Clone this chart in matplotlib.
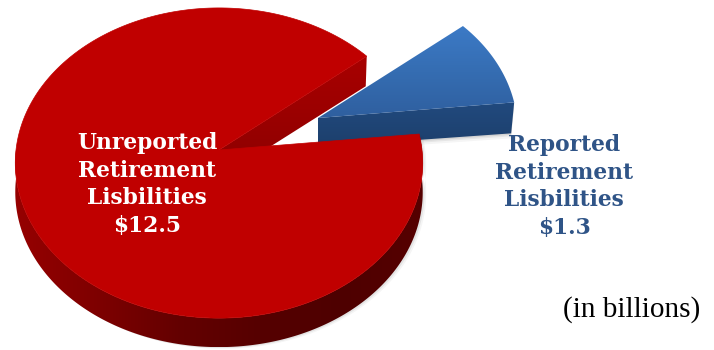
import numpy as np
import matplotlib
matplotlib.use("Agg")
import matplotlib.pyplot as plt
from matplotlib.colors import LinearSegmentedColormap
from matplotlib.patches import Polygon

# Retirement liabilities, in billions of dollars
slice_names = ["Unreported Retirement Lisbilities", "Reported Retirement Lisbilities"]
slice_values = [12.5, 1.3]
slice_labels = ["Unreported\nRetirement\nLisbilities\n$12.5", "Reported\nRetirement\nLisbilities\n$1.3"]
unit_note = "(in billions)"

# Pie geometry on a pixel-sized canvas
W, H = 714, 350
RX, RY = 203, 154          # radii of the tilted disc
TILT = 0.084               # perspective strength
DEPTH = 29                 # thickness of the disc
START_DEG = 6.0            # where the small slice begins
RED_APEX = (219, 150)
BLUE_APEX = (318, 118)
BLUE_RADIUS = 0.98

RED_TOP, WHITE = "#C00000", "#FFFFFF"
BLUE_TEXT = "#2F5487"


def project(apex, radius, deg):
    """Map polar coordinates on the disc to canvas coordinates."""
    t = np.radians(deg)
    w = 1 + TILT * radius * np.sin(t)
    return apex[0] + RX * radius * np.cos(t) / w, apex[1] - RY * radius * np.sin(t) / w


def wedge_outline(apex, start, end, radius=1.0):
    deg = np.linspace(start, end, 240)
    x, y = project(apex, radius, deg)
    return np.column_stack([np.r_[apex[0], x], np.r_[apex[1], y]])


def gradient_fill(ax, poly, stops, angle="vertical", z=1):
    """Fill a polygon with a linear colour ramp."""
    patch = Polygon(poly, closed=True, facecolor="none", edgecolor="none", zorder=z)
    ax.add_patch(patch)
    cmap = LinearSegmentedColormap.from_list("ramp", stops)
    x0, y0 = poly.min(axis=0)
    x1, y1 = poly.max(axis=0)
    ramp = np.linspace(0, 1, 256)
    ramp = ramp[:, None] if angle == "vertical" else ramp[None, :]
    im = ax.imshow(ramp, cmap=cmap, extent=(x0, x1, y1, y0), origin="upper",
                   aspect="auto", zorder=z, interpolation="bilinear")
    im.set_clip_path(patch)


fig = plt.figure(figsize=(W / 100, H / 100), dpi=100)
ax = fig.add_axes([0, 0, 1, 1])
ax.set_axis_off()

gap = 360 * slice_values[1] / sum(slice_values)
blue_start, blue_end = START_DEG, START_DEG + gap

# Small slice, pulled away from the disc
top = wedge_outline(BLUE_APEX, blue_start, blue_end, BLUE_RADIUS)
ex, ey = project(BLUE_APEX, BLUE_RADIUS, blue_start)
front = np.array([BLUE_APEX, (ex, ey), (ex - 3, ey + DEPTH + 2), (BLUE_APEX[0], BLUE_APEX[1] + DEPTH)])
for off, alpha in [(5, 0.04), (3, 0.06), (1.5, 0.08)]:
    ax.add_patch(Polygon(front + [0, off], closed=True, facecolor="#000000", edgecolor="none",
                         alpha=alpha, zorder=1))
gradient_fill(ax, front, ["#214A7E", "#1D3F6C"], z=2)
gradient_fill(ax, top, ["#3C7AC6", "#356DB2", "#2F5F9F"], z=3)

# Rim of the large slice, shaded from the left edge round to the right
rim_deg = np.linspace(180, 360 + blue_start, 360)
rim_x, rim_y = project(RED_APEX, 1.0, rim_deg)
rim = np.r_[np.column_stack([rim_x, rim_y]),
            np.column_stack([rim_x[::-1], rim_y[::-1] + DEPTH])]
for off, alpha in [(3.5, 0.04), (1.8, 0.07)]:
    ax.add_patch(Polygon(rim + [off, off / 2], closed=True, facecolor="#000000", edgecolor="none",
                         alpha=alpha, zorder=3.5))
gradient_fill(ax, rim, ["#960000", "#7E0000", "#640000", "#560000", "#4E0000", "#560000"],
              angle="horizontal", z=4)

# Cut face of the large slice, seen through the opening
cx, cy = project(RED_APEX, 1.0, blue_end)
cut = np.array([RED_APEX, (cx, cy), (cx - 1, cy + DEPTH + 1), (RED_APEX[0], RED_APEX[1] + DEPTH)])
gradient_fill(ax, cut, ["#A80000", "#8C0000"], z=5)

# Top face of the large slice
ax.add_patch(Polygon(wedge_outline(RED_APEX, blue_end, 360 + blue_start), closed=True,
                     facecolor=RED_TOP, edgecolor=RED_TOP, linewidth=0.5, zorder=6))

# Labels
label_style = dict(family="DejaVu Serif", fontweight="bold", fontsize=15.7,
                   ha="center", va="center", linespacing=1.33, zorder=8)
ax.text(147, 184.5, slice_labels[0], color=WHITE, **label_style)
ax.text(564, 186.5, slice_labels[1], color=BLUE_TEXT, **label_style)
ax.text(632, 310, unit_note, family="Liberation Serif", fontsize=21, color="#000000",
        ha="center", va="center", zorder=8)

ax.set_xlim(0, W)
ax.set_ylim(H, 0)
fig.savefig("out.png", dpi=100, facecolor="white")
